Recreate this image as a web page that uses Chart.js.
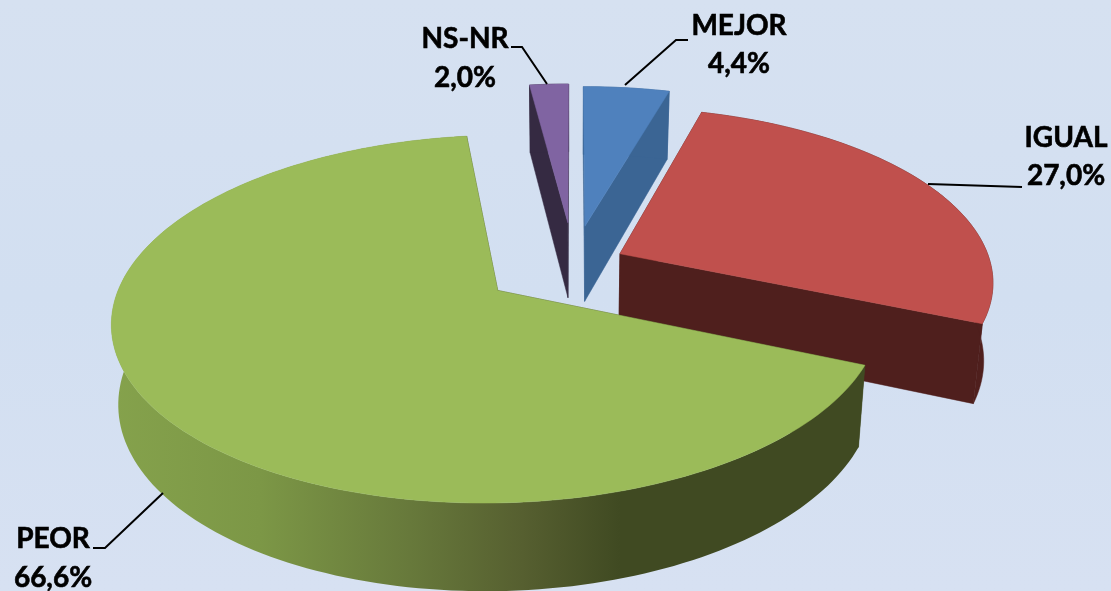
<!DOCTYPE html>
<html>
<head>
<meta charset="utf-8">
<script src="https://cdn.jsdelivr.net/npm/chart.js@4"></script>
<style>
  html, body { margin: 0; padding: 0; width: 1111px; height: 591px; overflow: hidden;
    background: linear-gradient(#d6e1f1, #d2dff1 50%, #d7e1f2); }
  #wrap { position: absolute; left: 0; top: 0; width: 1111px; height: 591px; }
</style>
</head>
<body>
<div id="wrap"><canvas id="pie" width="1111" height="591"></canvas></div>
<script>
const categories = ["MEJOR", "IGUAL", "PEOR", "NS-NR"];
const values = [4.4, 27.0, 66.6, 2.0];
const explode = [23, 14, 25, 25]; // percent of radius
const topColors = ["#4f81bd", "#c0504d", "#9bbb59", "#8064a2"];
const sideColors = ["#3b6594", "#4f1f1d", "#404a22", "#352a42"];

// label placement: text centre lines + leader polyline
const labelPos = {
  "MEJOR": { x: 739, y1: 26, y2: 64, line: [[688, 40], [676, 40], [625, 85]] },
  "IGUAL": { x: 1066, y1: 138, y2: 176, line: [[928, 184], [1022, 187]] },
  "PEOR": { x: 53, y1: 539, y2: 578, line: [[163, 493], [105, 548], [93, 548]] },
  "NS-NR": { x: 465, y1: 39, y2: 78, line: [[511, 47], [522, 47], [547, 84]] }
};

// perspective set up of the tilted disc
const CAM = { cx: 573.5, cy: 264, sx: 371, sy: 171.4, k: 0.152, depth: 77, kd: 0.11, shrinkL: 0.985, shrinkR: 0.978 };

function project(u, v, bottom) {
  const d = 1 + CAM.k * v;
  const x = CAM.sx * u / d, y = CAM.cy - CAM.sy * v / d;
  if (!bottom) return [CAM.cx + x, y];
  return [CAM.cx + x * (x < 0 ? CAM.shrinkL : CAM.shrinkR), y + CAM.depth / (1 + CAM.kd * v)];
}

function outline(arc) {
  const p = arc.getProps(["startAngle", "endAngle"], true);
  const e = arc.options.offset / 100;
  const mid = (p.startAngle + p.endAngle) / 2;
  const ox = e * Math.cos(mid), oy = -e * Math.sin(mid);
  const pts = [];
  const n = Math.max(4, Math.ceil((p.endAngle - p.startAngle) * 40));
  for (let i = 0; i <= n; i++) {
    const a = p.startAngle + (p.endAngle - p.startAngle) * i / n;
    pts.push([ox + Math.cos(a), oy - Math.sin(a)]);
  }
  return { apex: [ox, oy], pts };
}

function fillPoly(ctx, pts, fill) {
  ctx.beginPath();
  pts.forEach((q, i) => i ? ctx.lineTo(q[0], q[1]) : ctx.moveTo(q[0], q[1]));
  ctx.closePath();
  ctx.fillStyle = fill;
  ctx.fill();
  ctx.strokeStyle = fill;
  ctx.lineWidth = 0.5;
  if (typeof fill === "string") ctx.stroke();
}

function greenWall(ctx) {
  const g = ctx.createLinearGradient(110, 0, 860, 0);
  g.addColorStop(0, "#85a24c");
  g.addColorStop(0.2, "#7c9746");
  g.addColorStop(0.4, "#67793b");
  g.addColorStop(0.55, "#565f30");
  g.addColorStop(0.68, "#404a22");
  g.addColorStop(1, "#404a22");
  return g;
}

const pie3d = {
  id: "pie3d",
  beforeDatasetDraw(chart, args) {
    const ctx = chart.ctx, meta = chart.getDatasetMeta(args.index);
    ctx.save();
    [3, 0, 1, 2].forEach(i => {
      const s = outline(meta.data[i]);
      const first = s.pts[0], last = s.pts[s.pts.length - 1];
      const side = sideColors[i];
      const face = (a, b) => [project(a[0], a[1]), project(b[0], b[1]), project(b[0], b[1], true), project(a[0], a[1], true)];
      fillPoly(ctx, face(s.apex, first), side);
      fillPoly(ctx, face(s.apex, last), side);
      const wall = s.pts.map(q => project(q[0], q[1]))
        .concat(s.pts.slice().reverse().map(q => project(q[0], q[1], true)));
      fillPoly(ctx, wall, i === 2 ? greenWall(ctx) : side);
      const top = [project(s.apex[0], s.apex[1])].concat(s.pts.map(q => project(q[0], q[1])));
      fillPoly(ctx, top, topColors[i]);
    });
    ctx.restore();
    return false;
  },
  afterDraw(chart) {
    const ctx = chart.ctx;
    ctx.save();
    ctx.font = "bold 28px Lato, 'Open Sans', sans-serif";
    ctx.textAlign = "center";
    ctx.textBaseline = "middle";
    ctx.fillStyle = "#000";
    ctx.strokeStyle = "#000";
    chart.data.labels.forEach((name, i) => {
      const l = labelPos[name];
      const pct = chart.data.datasets[0].data[i].toFixed(1).replace(".", ",") + "%";
      ctx.lineWidth = 0.6;
      ctx.fillText(name, l.x, l.y1);
      ctx.strokeText(name, l.x, l.y1);
      ctx.fillText(pct, l.x, l.y2);
      ctx.strokeText(pct, l.x, l.y2);
      ctx.lineWidth = 2;
      ctx.beginPath();
      l.line.forEach((q, j) => j ? ctx.lineTo(q[0], q[1]) : ctx.moveTo(q[0], q[1]));
      ctx.stroke();
    });
    ctx.restore();
  }
};

new Chart(document.getElementById("pie").getContext("2d"), {
  type: "pie",
  data: {
    labels: categories,
    datasets: [{ data: values, backgroundColor: topColors, offset: explode, borderWidth: 0 }]
  },
  options: {
    responsive: false,
    animation: false,
    plugins: { legend: { display: false }, tooltip: { enabled: false } }
  },
  plugins: [pie3d]
});
</script>
</body>
</html>
